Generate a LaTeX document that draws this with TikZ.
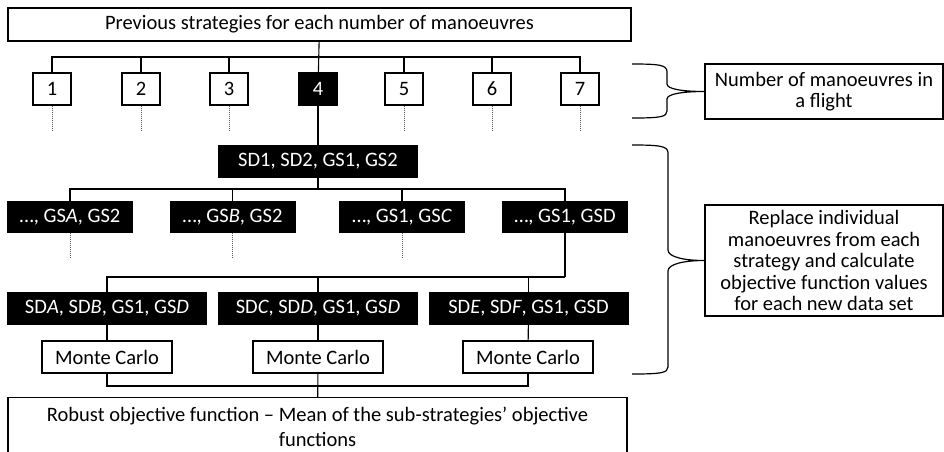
\documentclass[tikz,border=0pt]{standalone}
\usepackage{fontspec}
\setmainfont{Carlito}
\usetikzlibrary{calc}
\usetikzlibrary{positioning}

\begin{document}
\begin{tikzpicture}[x=1pt, y=-1pt, font=\fontsize{20.5}{21.5}\selectfont]
            \useasboundingbox (0,0) rectangle (944,451);

            % white boxes
            \begin{scope}[every node/.style={draw, fill=white, line width=1.2pt, inner sep=0pt, minimum width=38pt, minimum height=32pt}]
                \node (prev) at (319.5,24.5) [minimum width=623pt, minimum height=33pt] {Previous strategies for each number of manoeuvres};
                \node (1) at (52,89) {1};
                \node (2) at (141,89) {2};
                \node (3) at (229,89) {3};
                \node (4) at (318,89) [fill=black, text=white] {4};
                \node (5) at (404,89) {5};
                \node (6) at (492,89) {6};
                \node (7) at (580,89) {7};
                \node (count) at (824,91.5) [minimum width=238pt, minimum height=55pt, align=center] {Number of manoeuvres in\\a flight};
                \node (replace) at (824,260.5) [minimum width=238pt, minimum height=111pt, align=center] {Replace individual\\manoeuvres from each\\strategy and calculate\\objective function values\\for each new data set};
                \node (mc1) at (107,357) [minimum width=130pt] {Monte Carlo};
                \node (mc2) at (318,357) [minimum width=130pt] {Monte Carlo};
                \node (mc3) at (528,357) [minimum width=130pt] {Monte Carlo};
                \node (robust) at (317.5,397) [anchor=north, minimum width=619pt, minimum height=58pt, align=center, font=\fontsize{20.5}{25}\selectfont] {Robust objective function -- Mean of the sub-strategies' objective\\functions};
            \end{scope}

            % black boxes
            \begin{scope}[every node/.style={fill=black, text=white, inner sep=0pt, minimum width=126pt, minimum height=32pt}]
                \node (sd) at (318,161.5) [minimum width=200pt, minimum height=33pt] {SD1, SD2, GS1, GS2};
                \node (gsa) at (70,217) {…, GS\textit{A}, GS2};
                \node (gsb) at (232.5,217) {…, GS\textit{B}, GS2};
                \node (gsc) at (402,217) {…, GS1, GS\textit{C}};
                \node (gsd) at (565,217) {…, GS1, GSD};
                \node (sda) at (107,308.5) [minimum width=200pt, minimum height=33pt] {SD\textit{A}, SD\textit{B}, GS1, GS\textit{D}};
                \node (sdc) at (318,308.5) [minimum width=200pt, minimum height=33pt] {SD\textit{C}, SD\textit{D}, GS1, GS\textit{D}};
                \node (sde) at (528.5,308.5) [minimum width=200pt, minimum height=33pt] {SD\textit{E}, SD\textit{F}, GS1, GSD};
            \end{scope}

            \coordinate (bar1) at (318,57);
            \coordinate (bar2) at (318,189);
            \coordinate (bar3) at (565,277);
            \coordinate (bar4) at (318,386);

            \begin{scope}[line width=1.1pt]
                \draw (prev) -- (4);
                \draw (1.north) |- (bar1);
                \draw (2.north) |- (bar1);
                \draw (3.north) |- (bar1);
                \draw (5.north) |- (bar1);
                \draw (6.north) |- (bar1);
                \draw (7.north) |- (bar1);
                \draw (4) -- (sd);
                \draw (sd) -- (bar2);
                \draw (gsa.north) |- (bar2);
                \draw (gsb.north) |- (bar2);
                \draw (gsc.north) |- (bar2);
                \draw (gsd.north) |- (bar2);
                \draw (gsd) -- (bar3);
                \draw (sda.north) |- (bar3);
                \draw (sdc.north) |- (bar3);
                \draw (sde.north) |- (bar3);
                \draw (sda) -- (mc1);
                \draw (sdc) -- (mc2);
                \draw (sde) -- (mc3);
                \draw (mc1.south) |- (bar4);
                \draw (mc3.south) |- (bar4);
                \draw (mc2) -- (robust);
            \end{scope}

            % dotted stubs
            \begin{scope}[gray!70!black, densely dotted, line width=1pt]
                \draw (1.south) -- ++(0,25);
                \draw (2.south) -- ++(0,25);
                \draw (3.south) -- ++(0,25);
                \draw (5.south) -- ++(0,25);
                \draw (6.south) -- ++(0,25);
                \draw (7.south) -- ++(0,25);
                \draw (gsa.south) -- ++(0,25);
                \draw (gsb.south) -- ++(0,25);
                \draw (gsc.south) -- ++(0,25);
            \end{scope}

            % braces
            \begin{scope}[line width=1.2pt]
                \draw (632,64) .. controls (660,64) and (667,65) .. (667,72) -- (667,84)
                    .. controls (667,89) and (682,91.5) .. (count.west)
                    .. controls (682,91.5) and (667,94) .. (667,99) -- (667,111)
                    .. controls (667,117) and (660,118) .. (632,118);
                \draw (632,145) .. controls (660,145) and (668,146) .. (668,153) -- (668,250)
                    .. controls (668,257) and (684,260.5) .. (replace.west)
                    .. controls (684,260.5) and (668,264) .. (668,271) -- (668,367)
                    .. controls (668,373) and (660,374) .. (632,374);
            \end{scope}
        \end{tikzpicture}
\end{document}
